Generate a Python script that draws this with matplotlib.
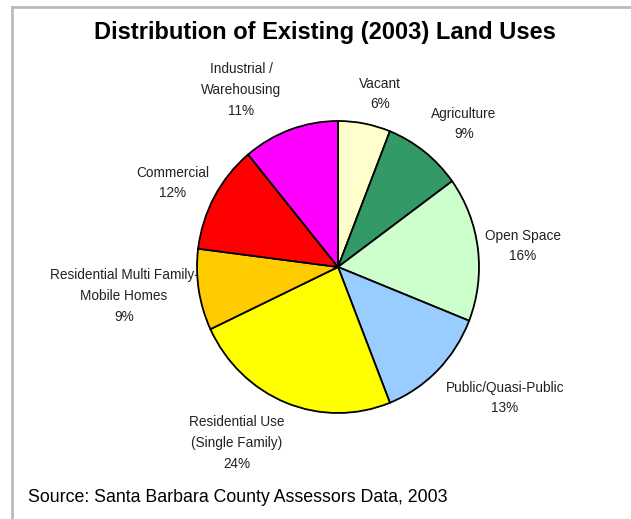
import matplotlib.pyplot as plt
from matplotlib.lines import Line2D

plt.rcParams['font.family'] = ['Liberation Sans', 'DejaVu Sans']

# land use shares, clockwise from 12 o'clock
categories = ['Vacant', 'Agriculture', 'Open Space', 'Public/Quasi-Public',
              'Residential Use\n(Single Family)',
              'Residential Multi Family-\nMobile Homes',
              'Commercial', 'Industrial /\nWarehousing']
shares = [6, 9, 16, 13, 24, 9, 12, 11]
colors = ['#FFFFCC', '#339966', '#CCFFCC', '#99CCFF',
          '#FFFF00', '#FFCC00', '#FF0000', '#FF00FF']

# label centres in pixels (x from left, y from top)
label_px = [(380, 94), (464, 124), (523, 246), (505, 398),
            (237, 443), (124, 296), (173, 183), (241, 90)]

W, H = 631, 519
fig = plt.figure(figsize=(W / 100, H / 100), dpi=100)

ax = fig.add_axes([197 / W, 1 - 413 / H, 282 / W, 292 / H])
ax.pie(shares, colors=colors, startangle=90, counterclock=False,
       wedgeprops=dict(edgecolor='black', linewidth=1.3))
ax.set_aspect('auto')
ax.set_xlim(-1, 1)
ax.set_ylim(-1, 1)
ax.axis('off')

for name, val, (px, py) in zip(categories, shares, label_px):
    fig.text(px / W, 1 - py / H, f'{name}\n{val}%', ha='center', va='center',
             fontsize=9.8, color='#222222', linespacing=1.6)

fig.text(325 / W, 1 - 33 / H, 'Distribution of Existing (2003) Land Uses',
         ha='center', va='center', fontsize=17, fontweight='bold')
fig.text(28 / W, 1 - 497 / H, 'Source: Santa Barbara County Assessors Data, 2003',
         ha='left', va='center', fontsize=12.75)

# partial frame around the chart
fig.add_artist(Line2D([12 / W, 12 / W], [0, 1 - 7 / H], color='#BBBBBB',
                      linewidth=2, transform=fig.transFigure))
fig.add_artist(Line2D([12 / W, 1], [1 - 7 / H, 1 - 7 / H], color='#BBBBBB',
                      linewidth=2, transform=fig.transFigure))

fig.savefig('out.png', dpi=100)
